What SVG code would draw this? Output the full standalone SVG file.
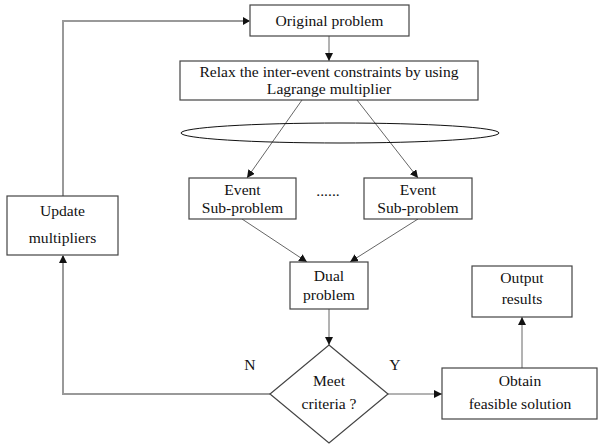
<svg xmlns="http://www.w3.org/2000/svg" width="598" height="445" viewBox="0 0 598 445">
<defs>
<marker id="ah" viewBox="0 0 10 10" refX="10" refY="5" markerWidth="8" markerHeight="8" markerUnits="userSpaceOnUse" orient="auto">
<path d="M0,0 L10,5 L0,10 z" fill="#111"/>
</marker>
<style>
.box{fill:#fff;stroke:#444;stroke-width:1.2}
.t{font-family:"Liberation Serif","Times New Roman",serif;font-size:15.6px;fill:#111;text-anchor:middle}
.c{fill:none;stroke:#666;stroke-width:1}
.g{fill:none;stroke:#999;stroke-width:2}
</style>
</defs>
<rect width="598" height="445" fill="#fff"/>
<g id="connectors">
<polyline class="g" points="270,394 63,394 63,256"/>
<polyline class="g" points="63,196 63,21 249,21"/>
<path d="M243,17 L250,21 L243,25 z" fill="#111"/>
<path d="M59,263 L63,255 L67,263 z" fill="#111"/>
<line class="c" x1="329" y1="36" x2="329" y2="61" marker-end="url(#ah)"/>
<line class="c" x1="302" y1="100" x2="247" y2="178" marker-end="url(#ah)"/>
<line class="c" x1="357" y1="100" x2="418" y2="178" marker-end="url(#ah)"/>
<line class="c" x1="242" y1="219" x2="307" y2="262" marker-end="url(#ah)"/>
<line class="c" x1="418" y1="219" x2="350" y2="262" marker-end="url(#ah)"/>
<line class="c" x1="329" y1="309" x2="329" y2="345" marker-end="url(#ah)"/>
<line class="c" x1="388" y1="394" x2="442" y2="394" marker-end="url(#ah)"/>
<line class="c" x1="522" y1="368" x2="522" y2="317" marker-end="url(#ah)"/>
</g>
<g id="original"><rect class="box" x="250" y="5" width="159" height="31"/><text class="t" x="329.5" y="26">Original problem</text></g>
<g id="relax"><rect class="box" x="180" y="61" width="298" height="39"/><text class="t" x="329" y="77">Relax the inter-event constraints by using</text><text class="t" x="329" y="94">Lagrange multiplier</text></g>
<g id="ellipse"><ellipse cx="340" cy="133" rx="159" ry="10" fill="none" stroke="#111" stroke-width="1"/></g>
<g id="event1"><rect class="box" x="189" y="178" width="107" height="41"/><text class="t" x="242.5" y="195">Event</text><text class="t" x="242.5" y="213">Sub-problem</text></g>
<g id="dots"><text class="t" x="328" y="196">......</text></g>
<g id="event2"><rect class="box" x="364" y="178" width="108" height="41"/><text class="t" x="418" y="195">Event</text><text class="t" x="418" y="213">Sub-problem</text></g>
<g id="update"><rect class="box" x="7" y="196" width="111" height="59"/><text class="t" x="62.5" y="216">Update</text><text class="t" x="62.5" y="243">multipliers</text></g>
<g id="dual"><rect class="box" x="290" y="262" width="78" height="47"/><text class="t" x="329" y="281">Dual</text><text class="t" x="329" y="300">problem</text></g>
<g id="decision"><polygon class="box" points="329,345 388,394 329,443 270,394"/><text class="t" x="329" y="386">Meet</text><text class="t" x="329" y="409">criteria ?</text></g>
<g id="obtain"><rect class="box" x="442" y="368" width="155" height="51"/><text class="t" x="520" y="386">Obtain</text><text class="t" x="520" y="409">feasible solution</text></g>
<g id="output"><rect class="box" x="472" y="266" width="100" height="51"/><text class="t" x="522" y="283">Output</text><text class="t" x="522" y="304">results</text></g>
<g id="labels"><text class="t" x="250" y="370">N</text><text class="t" x="395" y="370">Y</text></g>
</svg>
